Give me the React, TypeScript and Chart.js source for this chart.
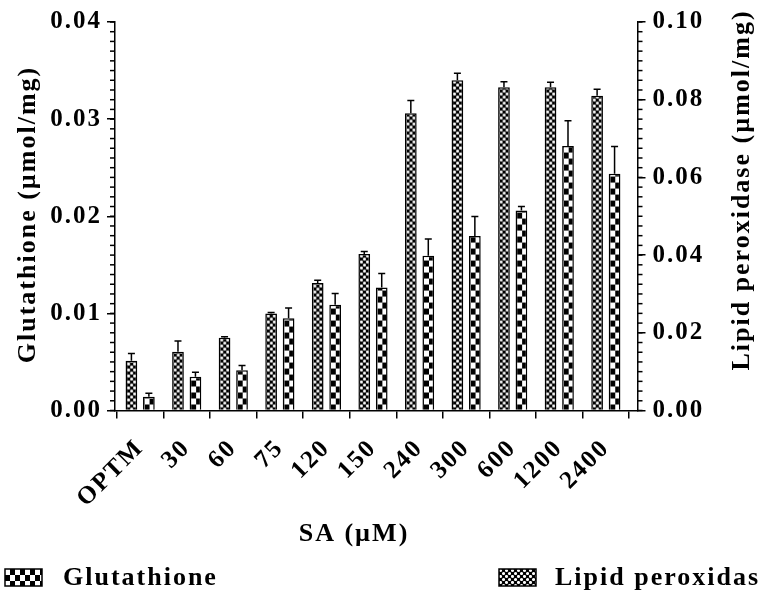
import React, { useEffect, useRef } from 'react';
import { Chart, registerables } from 'chart.js';

Chart.register(...registerables);

// ---- data ----
const categories = ['OPTM', '30', '60', '75', '120', '150', '240', '300', '600', '1200', '2400'];
const glutathione = [0.00142, 0.00348, 0.00414, 0.0095, 0.01088, 0.01266, 0.01593, 0.01796, 0.0206, 0.02724, 0.02438];
const glutathioneErr = [0.00035, 0.00045, 0.0005, 0.00106, 0.00116, 0.00144, 0.00172, 0.00202, 0.0004, 0.0026, 0.00281];
const lipidPeroxidase = [0.0128, 0.0151, 0.0187, 0.0250, 0.0328, 0.0403, 0.0765, 0.0850, 0.0832, 0.0832, 0.0810];
const lipidPeroxidaseErr = [0.0019, 0.0028, 0.0003, 0.0002, 0.0007, 0.0006, 0.0033, 0.0018, 0.0014, 0.0013, 0.0017];
const leftAxis = { min: 0, max: 0.04, step: 0.01, minorStep: 0.001 };
const rightAxis = { min: 0, max: 0.1, step: 0.02, minorStep: 0.0025 };

const leftTitle = 'Glutathione (µmol/mg)';
const rightTitle = 'Lipid peroxidase (µmol/mg)';
const xTitle = 'SA (µM)';
const glutLabel = 'Glutathione';
const lipidLabel = 'Lipid peroxidase';

const FONT = '"Liberation Serif", "Times New Roman", serif';
const CP = 0.75;
const BP = 0.67;
const BW = 1.5;

function checkerTile(cw: number, ch: number) {
  const c = document.createElement('canvas');
  c.width = cw * 2;
  c.height = ch * 2;
  const g = c.getContext('2d')!;
  g.fillStyle = '#fff';
  g.fillRect(0, 0, c.width, c.height);
  g.fillStyle = '#000';
  g.fillRect(0, ch, cw, ch);
  g.fillRect(cw, 0, cw, ch);
  return c;
}

function fineTile() {
  const c = document.createElement('canvas');
  c.width = 6;
  c.height = 6;
  const g = c.getContext('2d')!;
  g.fillStyle = '#000';
  g.fillRect(0, 0, 6, 6);
  g.fillStyle = '#fff';
  const dot = (x: number, y: number) => {
    g.beginPath();
    g.arc(x, y, 1.55, 0, Math.PI * 2);
    g.fill();
  };
  dot(1.5, 1.5);
  dot(4.5, 4.5);
  return c;
}

export default function App() {
  const ref = useRef<HTMLCanvasElement | null>(null);

  useEffect(() => {
    document.body.style.margin = '0';
    const canvas = ref.current!;
    const glutTile = checkerTile(5, 6);
    const lipTile = fineTile();

    const patternFor = (tile: HTMLCanvasElement) => (c: any) => {
      const chart = c.chart;
      const xs = chart.scales.x;
      const p = chart.ctx.createPattern(tile, 'repeat');
      if (!xs || c.type !== 'data') return p;
      const ds = chart.data.datasets[c.datasetIndex];
      const ys = chart.scales[ds.yAxisID];
      const px = xs.getPixelForValue(c.dataIndex);
      const unit = Math.abs(xs.getPixelForValue(1) - xs.getPixelForValue(0));
      const slot = (unit * CP) / 2;
      const center = px + (c.datasetIndex === 0 ? -slot / 2 : slot / 2);
      const left = center - (slot * BP) / 2 + BW;
      const base = ys ? ys.getPixelForValue(0) : 0;
      p.setTransform(new DOMMatrix().translate(left, base));
      return p;
    };

    const minorTicks = {
      id: 'minorTicks',
      afterDraw(chart: any) {
        const ctx = chart.ctx;
        ctx.save();
        ctx.strokeStyle = '#000';
        ctx.lineWidth = 1.5;
        const yl = chart.scales.y;
        const nL = Math.round((leftAxis.max - leftAxis.min) / leftAxis.minorStep);
        for (let k = 0; k <= nL; k++) {
          const py = yl.getPixelForValue(leftAxis.min + k * leftAxis.minorStep);
          ctx.beginPath();
          ctx.moveTo(yl.right - 5, py);
          ctx.lineTo(yl.right, py);
          ctx.stroke();
        }
        const yr = chart.scales.y1;
        const nR = Math.round((rightAxis.max - rightAxis.min) / rightAxis.minorStep);
        for (let k = 0; k <= nR; k++) {
          const py = yr.getPixelForValue(rightAxis.min + k * rightAxis.minorStep);
          ctx.beginPath();
          ctx.moveTo(yr.left, py);
          ctx.lineTo(yr.left + 5, py);
          ctx.stroke();
        }
        ctx.restore();
      },
    };

    const errorBars = {
      id: 'errorBars',
      afterDatasetsDraw(chart: any) {
        const ctx = chart.ctx;
        ctx.save();
        ctx.strokeStyle = '#000';
        ctx.lineWidth = 1.5;
        chart.data.datasets.forEach((ds: any, di: number) => {
          const meta = chart.getDatasetMeta(di);
          const ys = chart.scales[ds.yAxisID];
          meta.data.forEach((el: any, i: number) => {
            const v = ds.data[i].y;
            const e = ds.errors[i];
            const top = ys.getPixelForValue(v + e);
            ctx.beginPath();
            ctx.moveTo(el.x, el.y);
            ctx.lineTo(el.x, top);
            ctx.moveTo(el.x - 3.5, top);
            ctx.lineTo(el.x + 3.5, top);
            ctx.stroke();
          });
        });
        ctx.restore();
      },
    };

    const spacing = {
      id: 'spacing',
      beforeDraw(chart: any) {
        chart.ctx.letterSpacing = '2px';
      },
    };

    const texts = {
      id: 'texts',
      afterDraw(chart: any) {
        const ctx = chart.ctx;
        ctx.save();
        ctx.letterSpacing = '2px';
        ctx.fillStyle = '#000';
        ctx.font = `bold 26px ${FONT}`;
        ctx.textBaseline = 'middle';
        ctx.textAlign = 'center';
        // left title
        ctx.save();
        ctx.translate(28, 214.5);
        ctx.rotate(-Math.PI / 2);
        ctx.fillText(leftTitle, 0, 0);
        ctx.restore();
        // right title
        ctx.save();
        ctx.translate(742, 190);
        ctx.rotate(-Math.PI / 2);
        ctx.fillText(rightTitle, 0, 0);
        ctx.restore();
        // x title
        ctx.fillText(xTitle, 354, 534);
        // legend
        const drawBox = (tile: HTMLCanvasElement, x: number, y: number, w: number, h: number) => {
          const p = ctx.createPattern(tile, 'repeat');
          p.setTransform(new DOMMatrix().translate(x, y));
          ctx.fillStyle = p;
          ctx.fillRect(x, y, w, h);
          ctx.strokeStyle = '#000';
          ctx.lineWidth = 1.5;
          ctx.strokeRect(x, y, w, h);
          ctx.fillStyle = '#000';
        };
        drawBox(glutTile, 5, 569, 37, 17);
        drawBox(lipTile, 499, 569, 37, 17);
        ctx.textAlign = 'left';
        ctx.fillText(glutLabel, 63, 578);
        ctx.fillText(lipidLabel, 555, 578);
        ctx.restore();
      },
    };

    const chart = new Chart(canvas, {
      type: 'bar',
      data: {
        datasets: [
          {
            label: lipidLabel,
            yAxisID: 'y1',
            data: lipidPeroxidase.map((v, i) => ({ x: i, y: v })),
            errors: lipidPeroxidaseErr,
            backgroundColor: patternFor(lipTile),
            borderColor: '#000',
            borderWidth: BW,
            categoryPercentage: CP,
            barPercentage: BP,
          } as any,
          {
            label: glutLabel,
            yAxisID: 'y',
            data: glutathione.map((v, i) => ({ x: i, y: v })),
            errors: glutathioneErr,
            backgroundColor: patternFor(glutTile),
            borderColor: '#000',
            borderWidth: BW,
            categoryPercentage: CP,
            barPercentage: BP,
          } as any,
        ],
      },
      options: {
        responsive: false,
        animation: false,
        devicePixelRatio: 1,
        layout: { padding: { top: 22, left: 0, right: 0, bottom: 0 } },
        plugins: { legend: { display: false }, tooltip: { enabled: false } },
        font: { family: FONT, weight: 'bold' },
        color: '#000',
        scales: {
          x: {
            type: 'linear',
            min: -0.54,
            max: 10.68,
            offset: false,
            afterBuildTicks: (s: any) => {
              s.ticks = categories.map((_, i) => ({ value: i }));
            },
            afterFit: (s: any) => {
              s.height = 180.5;
              s.paddingLeft = 0;
              s.paddingRight = 0;
            },
            ticks: {
              autoSkip: false,
              minRotation: 45,
              maxRotation: 45,
              padding: 15,
              color: '#000',
              font: { family: FONT, weight: 'bold', size: 25 },
              callback: (_v: any, i: number) => categories[i],
            },
            grid: { display: true, drawOnChartArea: false, drawTicks: true, tickLength: 8, color: '#000', lineWidth: 1.5 },
            border: { display: true, color: '#000', width: 1.5 },
          },
          y: {
            position: 'left',
            min: leftAxis.min,
            max: leftAxis.max,
            afterFit: (s: any) => {
              s.width = 115;
              s.paddingTop = 0;
              s.paddingBottom = 0;
            },
            ticks: {
              stepSize: leftAxis.step,
              padding: 5,
              color: '#000',
              font: { family: FONT, weight: 'bold', size: 25 },
              callback: (v: any) => Number(v).toFixed(2),
            },
            grid: { display: true, drawOnChartArea: false, drawTicks: true, tickLength: 8, color: '#000', lineWidth: 1.5 },
            border: { display: true, color: '#000', width: 1.5 },
          },
          y1: {
            position: 'right',
            min: rightAxis.min,
            max: rightAxis.max,
            afterFit: (s: any) => {
              s.width = 122.5;
              s.paddingTop = 0;
              s.paddingBottom = 0;
            },
            ticks: {
              stepSize: rightAxis.step,
              padding: 7,
              color: '#000',
              font: { family: FONT, weight: 'bold', size: 25 },
              callback: (v: any) => Number(v).toFixed(2),
            },
            grid: { display: true, drawOnChartArea: false, drawTicks: true, tickLength: 8, color: '#000', lineWidth: 1.5 },
            border: { display: true, color: '#000', width: 1.5 },
          },
        },
      } as any,
      plugins: [spacing, errorBars, minorTicks, texts],
    });

    return () => chart.destroy();
  }, []);

  return (
    <div style={{ width: 760, height: 591 }}>
      <canvas ref={ref} width={760} height={591} style={{ display: 'block' }} />
    </div>
  );
}
